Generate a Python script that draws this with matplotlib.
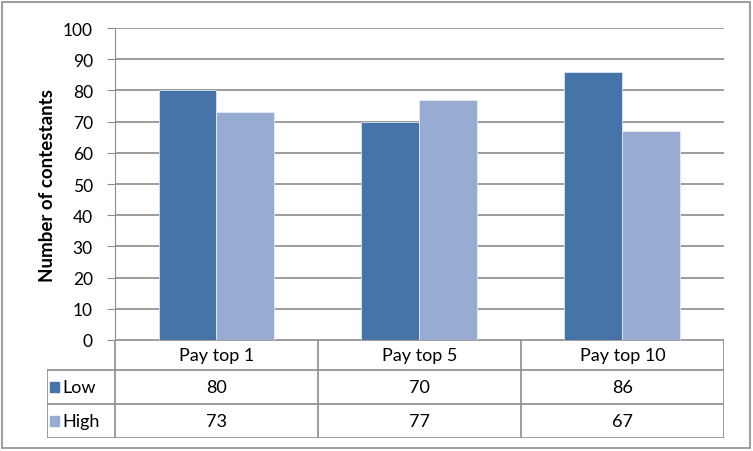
import matplotlib.pyplot as plt
import numpy as np
from matplotlib.patches import Rectangle

# Data
categories = ['Pay top 1', 'Pay top 5', 'Pay top 10']
series = ['Low', 'High']
low_vals = [80, 70, 86]
high_vals = [73, 77, 67]
colors = ['#4674a8', '#97abd3']

plt.rcParams['font.family'] = ['Lato', 'DejaVu Sans']
W, H = 753, 452
fig = plt.figure(figsize=(W / 100, H / 100), dpi=100)

# outer border
fig.patches.append(Rectangle((2 / W, 3 / H), 748 / W, 446 / H, transform=fig.transFigure,
                             fill=False, edgecolor='#8c8c8c', linewidth=1.2))

grey = '#8c8c8c'
ax = fig.add_axes([115 / W, (H - 341) / H, 609 / W, 312 / H])
x = np.arange(len(categories))
bw = 1 / 3.5
ax.bar(x - bw / 2, low_vals, width=bw, color=colors[0], edgecolor='#dde4ee', linewidth=0.6, zorder=3)
ax.bar(x + bw / 2, high_vals, width=bw, color=colors[1], edgecolor='#e6ebf4', linewidth=0.6, zorder=3)
ax.set_xlim(-0.5, 2.5)
ax.set_ylim(0, 100)
ax.set_yticks(range(0, 101, 10))
ax.set_xticks([])
for s in ['top', 'right', 'bottom']:
    ax.spines[s].set_visible(False)
ax.spines['left'].set_color(grey)
ax.tick_params(axis='y', length=6, color=grey, labelsize=12.5, pad=10)
ax.yaxis.grid(True, color=grey, linewidth=1.2, zorder=0)
ax.set_axisbelow(True)
ax.set_ylabel('Number of contestants', fontsize=13.5, fontweight='bold', labelpad=5)

# data table below the plot
tab = fig.add_axes([47 / W, (H - 439) / H, 677 / W, 98 / H])
left = -0.5 - 68 / 203
tab.set_xlim(left, 2.5)
tab.set_ylim(98, 0)
tab.axis('off')
rows = [0, 30, 64, 98]
lw = 1.2
tab.plot([-0.5, 2.5], [0, 0], color=grey, lw=lw)
for r in rows[1:]:
    tab.plot([left, 2.5], [r, r], color=grey, lw=lw)
for xv in [-0.5, 0.5, 1.5, 2.5]:
    tab.plot([xv, xv], [0, 98], color=grey, lw=lw)
tab.plot([left, left], [30, 98], color=grey, lw=lw)

for i, c in enumerate(categories):
    tab.text(i, 15, c, ha='center', va='center', fontsize=13)
for j, (name, vals) in enumerate(zip(series, [low_vals, high_vals])):
    yc = (rows[j + 1] + rows[j + 2]) / 2
    tab.add_patch(Rectangle((left + 0.015, yc - 5), 0.045, 10, color=colors[j]))
    tab.text(left + 0.075, yc, name, ha='left', va='center', fontsize=13)
    for i, v in enumerate(vals):
        tab.text(i, yc, str(v), ha='center', va='center', fontsize=13)

fig.savefig('out.png', dpi=100)
